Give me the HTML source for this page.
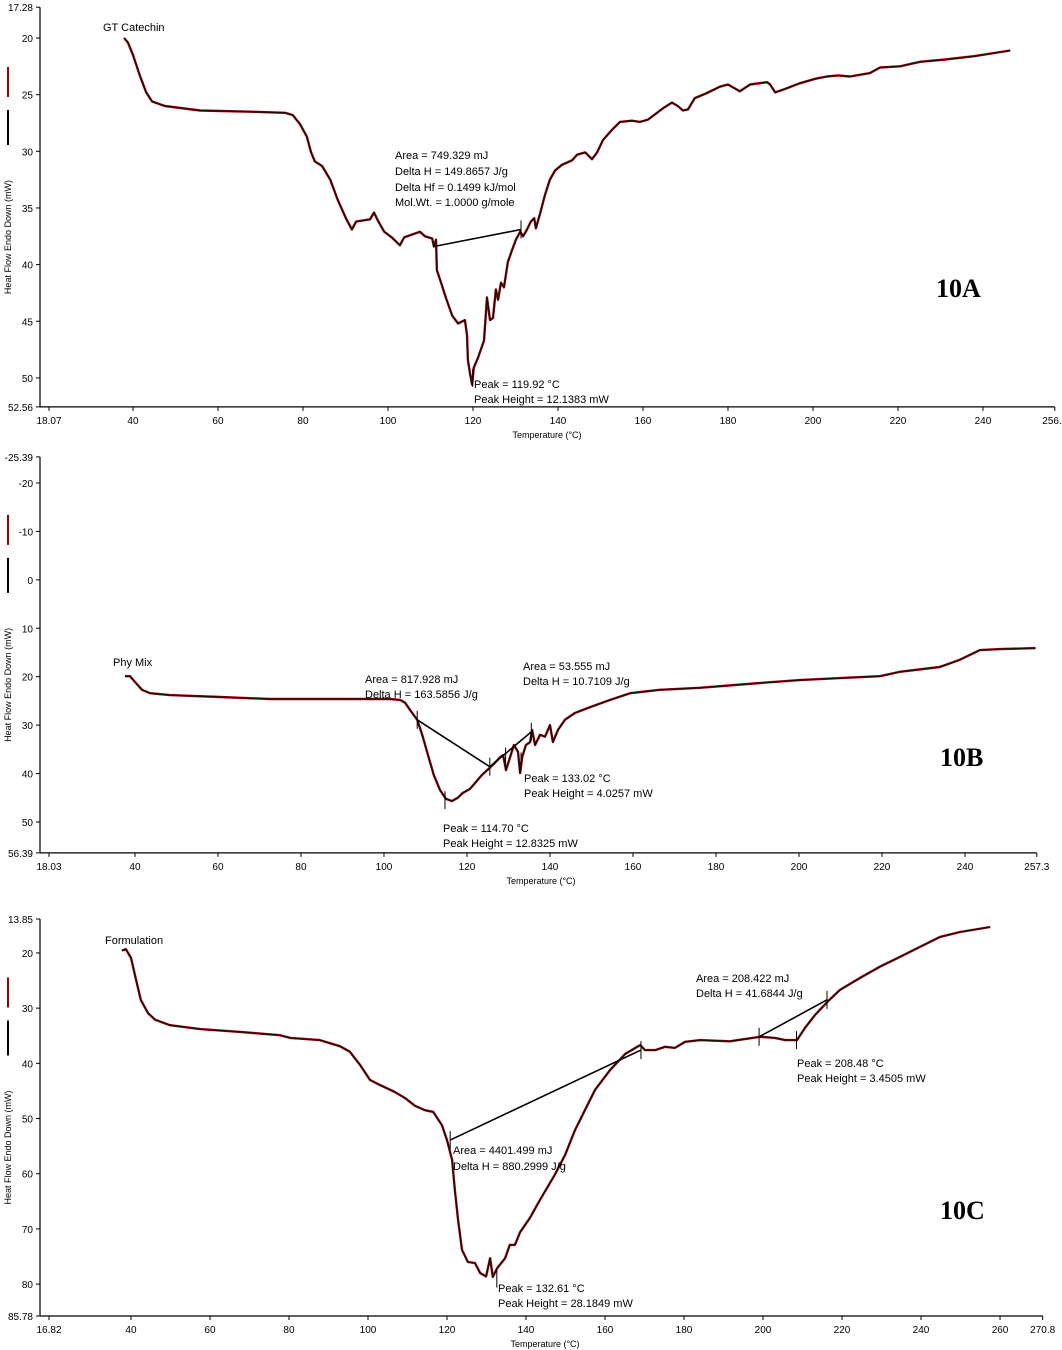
<!DOCTYPE html>
<html><head><meta charset="utf-8">
<style>
body{margin:0;background:#fff;}
svg{display:block;font-family:"Liberation Sans",Arial,sans-serif;}
.tk{font-size:10px;fill:#000;}
.ann{font-size:11px;fill:#000;}
.ttl{font-size:9px;fill:#000;}
.big{font-family:"Liberation Serif",serif;font-weight:bold;font-size:26px;fill:#000;}
</style></head>
<body>
<svg id="fig" width="1062" height="1350" viewBox="0 0 1062 1350"></svg>
<script>
// ---- Panel A data (GT Catechin) ----
const tempA=[37.9,38.8,40,41.6,43.1,44.5,47.5,55.8,67.5,75.8,77.6,79.3,80.9,81.9,82.8,84.5,86.4,88.2,90.1,91.5,92.5,95.8,96.7,97.6,99.1,100.9,102.8,103.8,107.5,108.7,110.4,110.8,111.3,111.5,112.5,113.6,115.1,116.5,118.1,118.6,118.8,119.3,119.8,120.2,121.2,122.6,123.3,124.0,124.7,125.4,125.9,126.6,127.3,128.2,129.2,130.1,131.1,131.8,132.7,133.6,134.4,134.8,135.8,136.9,138.1,139.3,140.9,143.3,144.5,146.4,148.0,149.2,150.6,152.7,154.6,157.4,159.3,161.2,164.7,166.8,168.2,169.4,170.6,172.2,174.8,178.1,180.0,182.8,185.2,189.2,189.9,191.1,193.4,196.9,200.5,203.3,205.9,208.7,213.4,215.8,220.5,225.2,231.1,238.1,246.4];
const flowA=[20.0,20.4,21.5,23.3,24.8,25.6,26.0,26.4,26.5,26.6,26.8,27.6,28.7,30.1,30.9,31.3,32.5,34.3,35.9,36.9,36.2,36.0,35.4,36.1,37.1,37.6,38.3,37.6,37.1,37.5,37.7,38.4,37.8,40.5,41.6,42.9,44.5,45.2,44.9,46.2,48.4,49.6,50.6,49.1,48.2,46.7,42.9,44.9,44.7,42.2,43.1,41.6,42.0,39.8,38.7,37.8,37.1,37.5,36.9,36.2,35.9,36.8,35.5,33.9,32.5,31.7,31.2,30.8,30.3,30.1,30.7,30.1,29.0,28.1,27.4,27.3,27.4,27.2,26.2,25.7,26.0,26.4,26.3,25.3,24.9,24.3,24.1,24.7,24.1,23.9,24.1,24.8,24.5,24.0,23.6,23.4,23.3,23.4,23.1,22.6,22.5,22.1,21.9,21.6,21.1];
const ticksXA=[40,60,80,100,120,140,160,180,200,220,240];
const ticksYA=[20,25,30,35,40,45,50];
const baseA=[[110.8,38.4],[131.3,36.9]];
// ---- Panel B data (Phy Mix) ----
const tempB=[37.6,38.8,40.0,41.7,43.6,48.4,60.5,72.5,84.6,101.4,103.9,105.1,106.3,108.0,109.2,110.6,112.0,113.5,114.9,116.4,117.8,119.0,120.7,122.2,123.6,125.5,126.7,128.0,128.7,129.4,130.4,131.3,132.3,132.8,133.3,134.2,135.2,135.7,136.4,137.6,138.8,140.0,140.7,141.9,143.6,146.0,149.6,154.5,159.3,166.5,176.1,190.6,200.2,209.9,219.5,224.3,233.9,238.8,243.6,248.4,257.0];
const flowB=[19.9,19.9,21.1,22.7,23.4,23.8,24.2,24.6,24.6,24.6,24.8,25.4,26.9,28.9,32.0,36.2,40.3,43.4,45.2,45.7,45.0,44.0,43.2,41.7,40.3,38.8,37.8,36.6,36.2,39.3,36.6,34.1,35.5,39.9,36.6,34.1,33.5,31.0,34.1,32.0,32.4,30.0,33.5,31.0,28.9,27.5,26.3,24.8,23.4,22.7,22.3,21.3,20.7,20.3,19.9,19.0,18.0,16.5,14.5,14.3,14.1];
const ticksXB=[40,60,80,100,120,140,160,180,200,220,240];
const ticksYB=[-20,-10,0,10,20,30,40,50];
const baseB1=[[108.0,28.9],[125.5,38.6]];
const baseB2=[[125.5,38.6],[135.5,31.4]];
// ---- Panel C data (Formulation) ----
const tempC=[37.7,38.7,40.0,41.3,42.5,44.3,46.1,49.9,57.5,67.6,77.7,80.3,87.8,92.9,95.4,98.0,100.5,103.0,106.8,109.4,111.9,114.4,116.5,118.7,120.0,121.3,122.0,122.8,123.8,125.3,127.1,128.4,129.9,130.9,131.6,132.7,134.7,135.9,137.2,138.5,141.0,143.5,147.3,149.9,152.4,154.9,157.5,161.3,165.1,168.9,170.1,172.7,175.2,177.7,180.3,184.1,191.6,199.2,203.0,205.6,208.6,210.6,213.2,216.5,219.5,224.6,229.6,234.7,239.7,244.8,249.9,257.5];
const flowC=[19.6,19.3,20.9,24.9,28.5,30.9,32.1,33.1,33.8,34.3,34.9,35.4,35.8,36.9,37.9,40.3,43.0,43.9,45.2,46.3,47.7,48.5,48.8,51.2,53.9,57.5,63.0,68.4,73.8,76.0,76.2,78.0,78.6,75.3,78.7,77.1,75.3,72.9,72.9,70.6,68.0,64.8,60.2,56.6,52.1,48.5,44.8,41.2,38.3,36.7,37.6,37.6,37.0,37.2,36.1,35.8,36.0,35.2,35.4,35.8,35.8,33.6,31.2,28.7,26.7,24.5,22.5,20.7,18.9,17.1,16.2,15.3];
const ticksXC=[40,60,80,100,120,140,160,180,200,220,240,260];
const ticksYC=[20,30,40,50,60,70,80];
const baseC1=[[120.8,53.9],[169.1,37.6]];
const baseC2=[[199.0,35.2],[216.2,28.5]];

const NS="http://www.w3.org/2000/svg";
const svg=document.getElementById('fig');
function mk(tag,attrs,parent){const e=document.createElementNS(NS,tag);for(const k in attrs)e.setAttribute(k,attrs[k]);(parent||svg).appendChild(e);return e;}
function txt(s,x,y,cls,anchor,parent){const t=mk('text',{x:x,y:y,class:cls,'text-anchor':anchor||'start'},parent);t.textContent=s;return t;}

function panel(cfg){
  const g=mk('g',{});
  
  
  const X=t=>cfg.x0+(t-cfg.xmin)/(cfg.xmax-cfg.xmin)*(cfg.x1-cfg.x0);
  const Y=v=>cfg.y0+(v-cfg.ymin)/(cfg.ymax-cfg.ymin)*(cfg.y1-cfg.y0);
  // axes
  const ya=mk('line',{x1:40,y1:Y(cfg.ymin),x2:40,y2:Y(cfg.ymax),stroke:'#000','stroke-width':1.2},g);
  
  
  const xa=mk('line',{x1:40,y1:Y(cfg.ymax),x2:X(cfg.xmax),y2:Y(cfg.ymax),stroke:'#000','stroke-width':1.2},g);
  
  
  // y ticks
  const yl=[cfg.ymin].concat(cfg.ty).concat([cfg.ymax]);
  yl.forEach(v=>{
    mk('line',{x1:36,y1:Y(v),x2:40,y2:Y(v),stroke:'#000'},g);
    const t=txt(String(v),33,Y(v)+4,'tk','end',g);
    
    
  });
  // x ticks
  const xb=Y(cfg.ymax);
  const xl=[cfg.xmin].concat(cfg.tx).concat([cfg.xmax]);
  xl.forEach((v,i)=>{
    const px=(i===0)?49:X(v);
    mk('line',{x1:px,y1:xb,x2:px,y2:xb+4,stroke:'#000'},g);
    const t=txt(String(v),px,xb+17,'tk','middle',g);
    
    
  });
  const xt=txt('Temperature (°C)',(cfg.titleX),xb+31,'ttl','middle',g);
  
  
  // y title + legend swatches
  const yc=(Y(cfg.ymin)+Y(cfg.ymax))/2;
  const yt=mk('text',{x:0,y:0,class:'ttl','text-anchor':'middle',transform:`translate(11,${yc+30}) rotate(-90)`},g);
  yt.textContent='Heat Flow Endo Down (mW)';
  
  
  const s1=mk('line',{x1:8,y1:yc-140,x2:8,y2:yc-110,stroke:'#a00000','stroke-width':2},g);
  
  
  const s2=mk('line',{x1:8,y1:yc-97,x2:8,y2:yc-62,stroke:'#000','stroke-width':2},g);
  
  
  // curve
  let d='';
  cfg.tx_data.forEach((t,i)=>{d+=(i?'L':'M')+X(t).toFixed(1)+','+Y(cfg.fy[i]).toFixed(1);});
  const h=mk('path',{d:d,fill:'none',stroke:'#b00000','stroke-width':2.4,'stroke-linejoin':'round'},g);
  
  
  const c=mk('path',{d:d,fill:'none',stroke:'#111','stroke-width':1.3,'stroke-linejoin':'round'},g);
  
  
  // baselines
  cfg.bases.forEach(b=>{
    const l=mk('line',{x1:X(b[0][0]),y1:Y(b[0][1]),x2:X(b[1][0]),y2:Y(b[1][1]),stroke:'#000','stroke-width':1.6},g);
    
    
  });
  cfg.marks.forEach(m=>{
    const l=mk('line',{x1:X(m[0]),y1:Y(m[1])-9,x2:X(m[0]),y2:Y(m[1])+9,stroke:'#000','stroke-width':1},g);
    
    
  });
  cfg.labels.forEach(L=>{
    const t=txt(L[0],L[1],L[2],L[3]||'ann','start',g);
    
    
  });
}

panel({name:'panel-10a',xmin:18.07,xmax:256.9,x0:39.8,x1:1054.8,ymin:17.28,ymax:52.56,y0:7.2,y1:406.9,
  tx:ticksXA,ty:ticksYA,tx_data:tempA,fy:flowA,titleX:547,bases:[baseA],
  marks:[[131.3,36.9],[119.92,50.0]],
  labels:[['GT Catechin',103,31,'ann','sample-label'],['Area = 749.329 mJ',395,159],['Delta H = 149.8657 J/g',395,175],['Delta Hf = 0.1499 kJ/mol',395,191],['Mol.Wt. = 1.0000 g/mole',395,206],['Peak = 119.92 °C',474,388],['Peak Height = 12.1383 mW',474,403],['10A',936,297,'big','panel-label']]});
panel({name:'panel-10b',xmin:18.03,xmax:257.3,x0:43.8,x1:1036.8,ymin:-25.39,ymax:56.39,y0:456.9,y1:852.9,
  tx:ticksXB,ty:ticksYB,tx_data:tempB,fy:flowB,titleX:541,bases:[baseB1,baseB2],
  marks:[[108,28.9],[125.5,38.6],[129.3,36.5],[133.02,37.5],[135.5,31.4],[114.7,45.5]],
  labels:[['Phy Mix',113,666,'ann','sample-label'],['Area = 817.928 mJ',365,683],['Delta H = 163.5856 J/g',365,698],['Area = 53.555 mJ',523,670],['Delta H = 10.7109 J/g',523,685],['Peak = 133.02 °C',524,782],['Peak Height = 4.0257 mW',524,797],['Peak = 114.70 °C',443,832],['Peak Height = 12.8325 mW',443,847],['10B',940,766,'big','panel-label']]});
panel({name:'panel-10c',xmin:16.82,xmax:270.8,x0:39.4,x1:1042.7,ymin:13.85,ymax:85.78,y0:919,y1:1316,
  tx:ticksXC,ty:ticksYC,tx_data:tempC,fy:flowC,titleX:545,bases:[baseC1,baseC2],
  marks:[[120.8,53.9],[169.1,37.6],[199.0,35.2],[216.2,28.5],[208.48,35.8],[132.61,79.0]],
  labels:[['Formulation',105,944,'ann','sample-label'],['Area = 208.422 mJ',696,982],['Delta H = 41.6844 J/g',696,997],['Peak = 208.48 °C',797,1067],['Peak Height = 3.4505 mW',797,1082],['Area = 4401.499 mJ',453,1154],['Delta H = 880.2999 J/g',453,1170],['Peak = 132.61 °C',498,1292],['Peak Height = 28.1849 mW',498,1307],['10C',940,1219,'big','panel-label']]});
</script>
</body></html>
